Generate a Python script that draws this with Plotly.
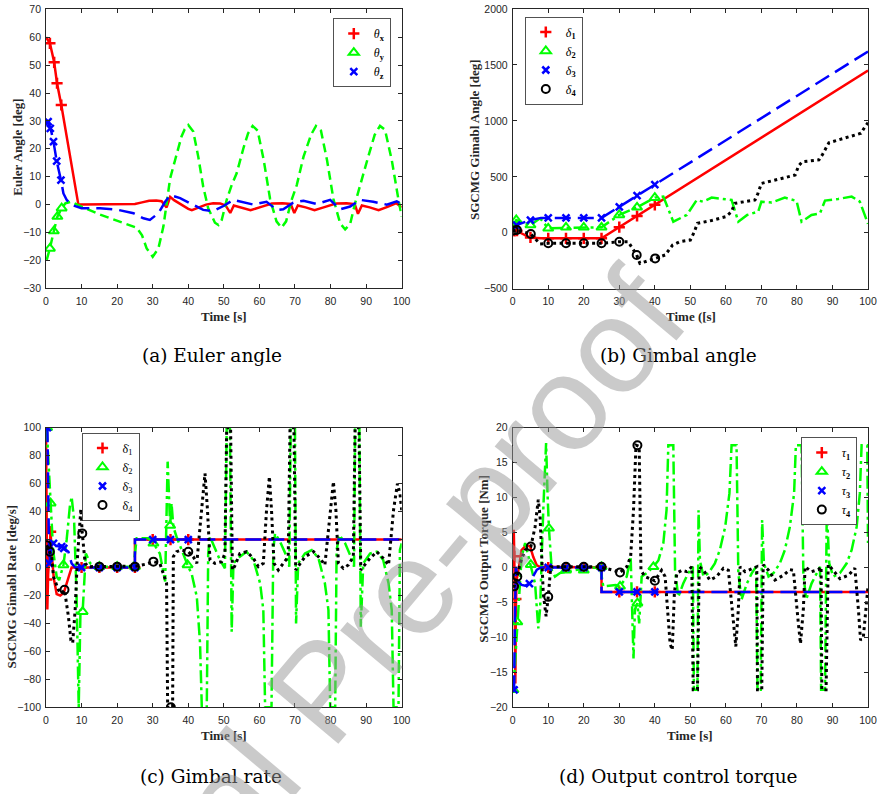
import plotly.graph_objects as go

W, H = 877, 794

# ---------------- (a) Euler angle ----------------
ta_x = [0, 1.1, 2.3, 3.1, 4.3, 5, 6, 7, 8, 9.1, 10, 15, 20, 25, 27, 29, 31, 32.5, 33.9, 34.9,
        36, 38, 40, 41, 43, 45, 47, 49, 50.5, 51.8, 52.8, 55, 57.5, 60.5, 63.5, 66.5, 68.8, 69.8,
        70.8, 73, 75.5, 78.5, 81.5, 84.5, 86.8, 87.7, 88.8, 91, 93.5, 96, 98.5, 100]
theta_x = [60, 57.8, 51, 43.5, 35.7, 30.5, 23, 15.5, 8, 0, 0, 0, 0, 0.2, 0.8, 1.4, 1.5, 1.2, -1, 2.8,
           1.6, 0, -1.5, -2, -1, 0, 0.5, 0.4, -0.3, -3, -0.3, -1, -2, -0.8, 0.4, 0.5, 0.2, -3,
           -0.3, -1, -2, -0.8, 0.4, 0.5, 0.2, -3.3, -0.3, -1, -2, -0.8, 0.5, -1]
ta_x_mk = [1.1, 2.3, 3.1, 4.3]
theta_x_mk = [57.8, 51, 43.5, 35.7]

ta_y = [0.2, 1.1, 2.2, 3.2, 4.4, 5.5, 7.2, 8.2, 15, 20,
        25.5, 27, 28.3, 30, 31.6, 33, 33.9, 34.9, 36.3, 38.1,
        39, 40, 41.4, 42.8, 44.2, 45.6, 47.5, 48.5, 49.4, 50.8,
        52.2, 53.6, 55.5, 56.8, 58.1, 59.5, 61.2, 63, 64.8, 66.2,
        67.5, 69, 70.5, 72.4, 74.5, 75.9, 77.3, 79, 80.8, 82.7,
        84.1, 85.5, 86.9, 88.3, 90.6, 92.4, 93.9, 95.3, 97.2, 99.1, 100]
theta_y = [-19.8, -15.7, -9.5, -4.3, -1.3, 0.5, 1.1, 0.3, -3.5, -5.8,
           -8.3, -11, -15.7, -18.7, -15.7, -7.9, -0.1, 9.4, 16, 24.4,
           27, 28.5, 26.2, 17.2, 6.4, -1.3, -6.5, -7.3, -5.5, 1.7,
           7, 11.2, 20.2, 25.5, 28.2, 26.5, 16, 2, -6, -8.3,
           -6, 1.5, 7, 17.2, 25, 28.2, 26.5, 16, 2, -6.7,
           -8.9, -7, 0.5, 7, 17.2, 25, 28.2, 26.8, 16, 1.7, -4.3]
ta_y_mk = [1.1, 2.2, 3.2, 4.4]
theta_y_mk = [-15.7, -9.5, -4.3, -1.3]

ta_z = [0.2, 1.3, 2.1, 3, 4.2, 4.9, 5.8, 7.2, 10, 15.2,
        20.3, 24.6, 27.4, 29.2, 31.6, 33.5, 34.9, 37.7, 41.4, 44.2,
        47, 49.9, 52.7, 55.5, 58.3, 62, 64.9, 66.7, 69.5, 72.4,
        76.1, 79.9, 82.7, 85.5, 88.3, 92, 95.8, 98.6, 100]
theta_z = [30.3, 27.3, 22.6, 15.6, 8.8, 4, 1.7, -0.1, -1.3, -1.3,
           -1.9, -3.1, -4.9, -5.5, -3.1, 1, 3.4, 2.3, -0.1, -1.9,
           -2.3, -0.5, 1.7, 0.9, 0, 1, -1.9, -1.7, 0.7, 1.4,
           0.2, 1.7, -1.7, -0.7, 1.7, 1, 0, 1.2, 0.2]
ta_z_mk = [0.6, 1.2, 2.1, 3, 4.2]
theta_z_mk = [29.7, 27.3, 22.6, 15.6, 8.8]

# ---------------- (b) Gimbal angle ----------------
tb1 = [0, 1, 5, 8, 25, 100]
d1 = [15, 18, -45, -50, -50, 1450]
tb1_mk = [0.5, 1.2, 5, 10, 15, 20, 25, 30, 35, 40]
d1_mk = [16, 18, -42, -50, -50, -50, -50, 50, 150, 250]

tb2 = [0, 1, 3, 5, 7.7, 10, 25, 30, 35, 40,
       42.4, 45.2, 49, 51.8, 53.5, 56, 61.6, 63.5, 66, 69.1,
       70, 72.9, 76.6, 79.9, 81.3, 84.1, 86.5, 87.9, 91.6, 95.4,
       97.7, 99.6, 100]
d2 = [60, 114, 90, 69, 129, 40, 49, 159, 227, 314,
      323, 99, 159, 293, 278, 314, 293, 99, 159, 189,
      278, 270, 314, 284, 99, 159, 174, 288, 302, 323,
      278, 99, 80]
tb2_mk = [1, 5, 10, 15, 20, 25, 30, 35, 40]
d2_mk = [114, 69, 40, 49, 49, 49, 159, 227, 314]

tb3 = [0, 1.1, 5, 8, 25, 100]
d3 = [20, 69, 114, 133, 133, 1620]
tb3_mk = [1.1, 5, 10, 15, 20, 25, 30, 35, 40]
d3_mk = [69, 114, 133, 133, 133, 133, 232, 331, 430]

tb4 = [0, 1.2, 5.1, 7.7, 10, 25, 30, 32.5, 34.9, 35.8,
       40.1, 42.9, 45, 47, 50, 51, 52, 56, 60, 61.6,
       62.5, 66, 68.2, 69, 70, 75, 79.5, 80.5, 81.5, 86.2,
       87.2, 89, 94, 98, 99, 100]
d4 = [15, 25, -11, -100, -94, -94, -80, -80, -199, -274,
      -229, -199, -110, -80, -65, 0, 84, 110, 144, 188,
      263, 280, 293, 350, 441, 480, 516, 600, 635, 651,
      700, 805, 850, 889, 940, 984]
tb4_mk = [0.3, 1.2, 5.1, 10, 15, 20, 25, 30, 34.9, 40.1]
d4_mk = [20, 25, -11, -94, -94, -94, -94, -80, -199, -229]

# ---------------- (c) Gimbal rate ----------------
tc1 = [0, 0.1, 0.2, 0.37, 0.6, 0.9, 1.3, 1.6, 2.2, 3, 4, 5, 6, 7.2, 25, 25, 100]
r1 = [100, 40, -8.5, -30, -5, 10, 25.6, 10, -8, -19, -20, -18, -10, 0, 0, 20, 20]
tc1_mk = [0.2, 1.3, 10, 15, 20, 25, 30, 35, 40]
r1_mk = [-8.5, 25.6, 0, 0, 0, 0, 20, 20, 20]

tc2 = [0.2, 1.3, 2, 3, 3.7, 4.9, 5.8, 6.7, 7.2, 7.9,
       8.6, 9.2, 9.7, 10.3, 11.2, 12.4, 15.2, 24.6, 25.5, 28.8,
       30.2, 32, 33.5, 34.2, 34.6, 34.9, 35.3, 35.8, 36.7, 38.1,
       39.8, 41, 42.4, 43.3, 43.8, 45.2, 45.6, 46.1, 47, 48.9,
       50.3, 50.8, 51.7, 52.2, 52.7, 54.5, 56.4, 58.3, 60.2, 61.1,
       61.6, 63.4, 63.9, 64.4, 65.8, 67.7, 68.4, 68.8, 70, 70.3,
       70.9, 72.8, 74.7, 76.6, 78.4, 79.4, 79.9, 81.3, 81.7, 82.5,
       84.1, 85.9, 86.6, 86.9, 88.1, 88.5, 89.2, 91.1, 93, 94.8,
       96.3, 97.2, 97.7, 99.1, 99.5, 100]
r2 = [100, 46, 12.5, -6.6, -9, 1.8, 19.7, 43.5, 50.6, 34,
      -20.9, -100, -30, -31.6, 10, 3, 0.6, 0.6, 20.9, 20.9,
      17.3, 10, -10, 75.7, 41, 30, 46, 29, 22, 12.5,
      1.8, -5, -21, -54, -100, -100, 10, 22, 17, 5.4,
      -0.6, 100, 100, -46, 3, 7.7, 11.3, 5.4, -11.3, -30.4,
      -100, -100, 12.5, 24.4, 18.5, 7.7, 0.6, 100, 100, -40,
      3, 10, 12.5, 6.6, -11.3, -30.4, -100, -100, 12.5, 23.2,
      17.3, 6.6, 0.6, 100, 100, -42.3, 3, 10, 11.3, 5.4,
      -11.3, -30.4, -100, -100, 12.5, 17.3]
tc2_mk = [0.3, 1.3, 4.9, 10.3, 15, 20, 25, 30.2, 34.9, 39.8]
r2_mk = [100, 46, 1.8, -31.6, 0.6, 0.6, 0.6, 17.3, 30, 1.8]

tc3 = [0, 0.4, 0.9, 1.6, 2.1, 3.5, 4.4, 5, 6.3, 7.2, 8.2, 25, 25, 100]
r3 = [100, 100, 3, 15, 17.3, 15, 15, 13.7, 11.3, 3, 0, 0, 20, 20]
tc3_mk = [0.4, 0.9, 2.1, 4.4, 5, 10, 15, 20, 25, 30, 35, 40]
r3_mk = [100, 3, 17.3, 15, 13.7, 0, 0, 0, 0, 20, 20, 20]

tc4 = [0.2, 1.1, 1.6, 2.1, 3.5, 4.4, 5.2, 6.3, 7, 7.5,
       8.2, 8.8, 9.6, 9.8, 10.2, 11, 11.9, 24.6, 25.5, 28.3,
       30.2, 32, 33.3, 33.9, 34.2, 35.6, 35.8, 36.7, 38.1, 40,
       41.4, 42.4, 43.3, 44.4, 44.7, 45.4, 46.1, 47.5, 49.4, 50.3,
       50.8, 51.9, 52.4, 53, 54.5, 56.4, 58.3, 59.7, 61.1, 62,
       62.8, 63.4, 64.1, 65.3, 66.7, 68.1, 68.6, 69.7, 70.2, 70.9,
       72.8, 75.2, 77, 78.4, 79.9, 80.8, 81.5, 82.2, 83.6, 85,
       86.4, 86.9, 88, 88.5, 89.2, 91.1, 93, 94.8, 96.3, 97.7,
       98.8, 99.5, 100]
r4 = [16, 11.3, 7.7, -6.6, -16, -18.5, -16, -35, -52, -54,
      -30, 5.4, 41, 42, 24.4, 3, 0.6, 0.6, 1, 2.5,
      4.2, 3, -6.6, -11.3, -100, -100, 7.7, 11.3, 12.5, 11.3,
      7.7, 3, 29, 62.6, 67.3, 41, 5.4, 3, 4.2, 10,
      100, 100, -1.8, 0.6, 10, 11.3, 6.6, 0.6, 3, 41,
      65, 41, 3, -1.8, 3, 7.7, 100, 100, -1.8, 0.6,
      7.7, 11.3, 6.6, 1.8, 41, 61.4, 41, 3, -0.6, 1.8,
      7.7, 100, 100, -1.8, 0.6, 6.6, 11.3, 6.6, 1.8, 41,
      60, 53, 41]
tc4_mk = [0.2, 1.1, 5.2, 10.2, 15, 20, 25, 30.2, 35.1, 40]
r4_mk = [16, 11.3, -16, 24.4, 0.6, 0.6, 0.6, 4.2, -100, 11.3]

# ---------------- (d) Output control torque ----------------
td1 = [0, 0.3, 0.45, 0.6, 0.75, 0.9, 1.2, 1.6, 2.5, 3.8, 4.9, 5.8, 6.8, 7.7, 25, 25, 100]
u1 = [0, 5.4, 1.6, -8, -16.6, -4.5, -1.5, -0.4, 2.5, 3.2, 3, 1.5, 0.3, 0.1, 0, -3.5, -3.5]
td1_mk = [0.45, 0.9, 10, 15, 20, 25, 30, 35, 40]
u1_mk = [1.6, -4.5, 0, 0, 0, 0, -3.5, -3.5, -3.5]

td2 = [0.2, 1.3, 2.5, 3.5, 5.1, 6.3, 7.2, 7.7, 8.6, 9.4,
       9.8, 10.2, 11, 11.9, 13.3, 17.1, 24.6, 25.5, 29, 30.2,
       32.1, 33.2, 34, 34.4, 35.1, 35.6, 36.3, 37.7, 39.6, 41,
       42.4, 43.3, 43.8, 45.2, 45.7, 46.6, 48, 49.4, 50.7, 51,
       52, 52.3, 52.7, 53.7, 55.1, 56.9, 58.3, 59.8, 61, 61.6,
       63, 63.5, 64.4, 65.9, 67.3, 68.5, 68.9, 69.8, 70.2, 70.7,
       72, 73.4, 75.2, 76.6, 78, 79.2, 79.7, 81.3, 81.8, 82.6,
       84.1, 85.6, 86.5, 86.8, 87.9, 88.4, 89.1, 90.2, 92.1, 94,
       95.4, 96.8, 97.7, 98.2, 99.8, 100]
u2 = [-17.5, -7.8, 1.5, 3.5, 0.4, -2.3, -8.7, -6, 8.2, 17.8,
      10.6, 5.6, -0.4, -1.3, -0.8, -0.4, 0.1, -2.7, -2.5, -2.7,
      -1.3, 1.6, -13, -6, -5.1, -8, -1.3, -0.8, 0.1, 1,
      3.5, 8.2, 17.5, 17.5, -0.4, -4.2, -2.3, -0.8, 0.1, -17.5,
      -17.5, 8.2, 1, -1.3, -0.8, 0.6, 2.5, 5.8, 10.6, 17.5,
      17.5, -0.8, -4.6, -2.3, -0.8, 0.1, -17.5, -17.5, 6.8, 0.6,
      -1.3, -0.8, 0.6, 2.5, 5.8, 10.6, 17.5, 17.5, -0.8, -4.6,
      -2.3, -0.8, 0.1, -17.5, -17.5, 8.2, 0.6, -1.3, -0.8, 0.6,
      2.5, 5.8, 10.6, 17.5, 17.5, 3.5]
td2_mk = [0.2, 1.3, 5.1, 10.2, 15, 20, 25, 30.2, 35.1, 39.6]
u2_mk = [-17.5, -7.8, 0.4, 5.6, -0.4, -0.4, 0.1, -2.7, -5.1, 0.1]

td3 = [0, 0.4, 0.6, 0.9, 1.5, 2.5, 3.5, 4.7, 5.5, 6.8, 8, 25, 25, 100]
u3 = [-17.5, -17.5, -8, 0.1, -2, -2.5, -2.6, -2.3, -1.5, -0.3, 0, 0, -3.5, -3.5]
td3_mk = [0.4, 4.7, 10, 15, 20, 25, 30, 35, 40]
u3_mk = [-17.5, -2.3, 0, 0, 0, 0, -3.5, -3.5, -3.5]

td4 = [0, 0.4, 1.3, 2.1, 3.5, 5.1, 6.3, 7.2, 7.7, 8.6,
       9.4, 10, 10.7, 24.6, 28.3, 30.2, 32.1, 33.2, 34, 34.7,
       35.6, 36.1, 37.2, 40, 41.9, 42.9, 44.3, 44.9, 45.5, 46.2,
       47.6, 49, 50.4, 50.8, 52, 52.5, 53.7, 55.5, 57.4, 59.3,
       60.7, 61.9, 62.8, 63.5, 64, 65.4, 67.7, 68.7, 68.9, 70.1,
       70.5, 72, 73.8, 76.2, 78, 79, 80.4, 81, 81.8, 82.3,
       84.1, 86, 86.8, 87, 88.2, 88.8, 90.2, 92.1, 94.5, 96.3,
       97.3, 97.9, 98.7, 99.4, 100]
u4 = [-2.7, -2.7, -1.3, 0.6, 2.5, 3, 5.8, 9.7, 7.3, -3.7,
      -7, -4.2, 0.1, 0.1, -0.4, -0.7, 0.1, 1.6, 8.2, 17.5,
      17.3, -0.4, -1.3, -1.9, -0.4, -1.3, -10.9, -11.8, -3.7, -0.8,
      -0.4, -0.6, 0.1, -17.5, -17.5, 0.1, -0.4, -1.8, -1.3, -0.1,
      -0.4, -7, -11.3, -6, 0.1, -0.6, -0.1, 0.1, -17.5, -17.5,
      0.4, -0.4, -1.8, -1.1, -0.3, -0.4, -8, -10.9, -6, 0.1,
      -0.6, -0.3, 0.1, -17.5, -17.5, 0.4, -0.4, -1.6, -1.1, -0.1,
      -6, -10.4, -9.9, -6, -2.7]
td4_mk = [0.4, 1.3, 5.1, 10, 15, 20, 25, 30.2, 35.1, 40]
u4_mk = [-2.7, -1.3, 3, -4.2, 0.1, 0.1, 0.1, -0.7, 17.5, -1.9]

# ---------------- texts ----------------
x_ticks = [0, 10, 20, 30, 40, 50, 60, 70, 80, 90, 100]
captions = ["(a) Euler angle", "(b) Gimbal angle", "(c) Gimbal rate", "(d) Output control torque"]
x_titles = ["Time [s]", "Time ([s]", "Time [s]", "Time [s]"]
y_titles = ["Euler Angle [deg]", "SGCMG Gimabl Angle [deg]", "SGCMG Gimabl Rate [deg/s]",
            "SGCMG Output Torque [Nm]"]
names_a = ["<i>θ</i><sub><b>x</b></sub>", "<i>θ</i><sub><b>y</b></sub>", "<i>θ</i><sub><b>z</b></sub>"]
names_b = ["<i>δ</i><sub><b>%d</b></sub>" % i for i in range(1, 5)]
names_c = ["δ\u0307<sub>%d</sub>" % i for i in range(1, 5)]
names_d = ["<i>τ</i><sub><b>%d</b></sub>" % i for i in range(1, 5)]
watermark = "Journal Pre-proof"

# ---------------- styling ----------------
RED, GREEN, BLUE, BLACK = "#ff0000", "#00ff00", "#0000ff", "#000000"
SOLID = "solid"
GDASH = "9px,5px"
GDASHDOT = "13px,4px,3px,4px"
BDASH = "16px,7px"
DOT = "3px,3.5px"
SYM = {"+": ("cross-thin", 8, 2.5), "^": ("triangle-up-open", 9, 2),
       "x": ("x-thin", 7, 2.5), "o": ("circle-open", 8, 2)}

fig = go.Figure()


def px(x):
    return x / W


def py(y):
    return 1 - y / H


def series(k, t, v, tm, vm, color, dash, lw, sym, name):
    xa = "x" if k == 1 else "x%d" % k
    ya = "y" if k == 1 else "y%d" % k
    lg = "legend" if k == 1 else "legend%d" % k
    assert len(t) == len(v) and len(tm) == len(vm), name
    fig.add_trace(go.Scatter(x=t, y=v, mode="lines", xaxis=xa, yaxis=ya, showlegend=False,
                             line=dict(color=color, width=lw, dash=dash), hoverinfo="skip"))
    s, sz, w = SYM[sym]
    fig.add_trace(go.Scatter(x=tm, y=vm, mode="markers", xaxis=xa, yaxis=ya, name=name,
                             legend=lg, showlegend=True, cliponaxis=True,
                             marker=dict(symbol=s, size=sz, color=color,
                                         line=dict(color=color, width=w))))


series(1, ta_x, theta_x, ta_x_mk, theta_x_mk, RED, SOLID, 2.5, "+", names_a[0])
series(1, ta_y, theta_y, ta_y_mk, theta_y_mk, GREEN, GDASH, 2.5, "^", names_a[1])
series(1, ta_z, theta_z, ta_z_mk, theta_z_mk, BLUE, BDASH, 2.5, "x", names_a[2])

series(2, tb1, d1, tb1_mk, d1_mk, RED, SOLID, 2.5, "+", names_b[0])
series(2, tb2, d2, tb2_mk, d2_mk, GREEN, GDASHDOT, 2.5, "^", names_b[1])
series(2, tb3, d3, tb3_mk, d3_mk, BLUE, BDASH, 2.5, "x", names_b[2])
series(2, tb4, d4, tb4_mk, d4_mk, BLACK, DOT, 3, "o", names_b[3])

series(3, tc1, r1, tc1_mk, r1_mk, RED, SOLID, 2.5, "+", names_c[0])
series(3, tc2, r2, tc2_mk, r2_mk, GREEN, GDASHDOT, 2.5, "^", names_c[1])
series(3, tc3, r3, tc3_mk, r3_mk, BLUE, BDASH, 2.5, "x", names_c[2])
series(3, tc4, r4, tc4_mk, r4_mk, BLACK, DOT, 3, "o", names_c[3])

series(4, td1, u1, td1_mk, u1_mk, RED, SOLID, 2.5, "+", names_d[0])
series(4, td2, u2, td2_mk, u2_mk, GREEN, GDASHDOT, 2.5, "^", names_d[1])
series(4, td3, u3, td3_mk, u3_mk, BLUE, BDASH, 2.5, "x", names_d[2])
series(4, td4, u4, td4_mk, u4_mk, BLACK, DOT, 3, "o", names_d[3])

# panel geometry (pixels): x0, x1, ytop, ybottom, yrange, dtick
panels = [
    (46, 401.7, 9.3, 288.3, [-30, 70], 10),
    (512.7, 868, 9, 288.7, [-500, 2000], 500),
    (46, 401.7, 427.7, 707.3, [-100, 100], 20),
    (512.7, 868, 427.7, 707.3, [-20, 20], 5),
]
AXC = "#262626"
tickfont = dict(family="Liberation Sans, Arial", size=10.5, color=AXC)
layout = dict(width=W, height=H, margin=dict(l=0, r=0, t=0, b=0),
              paper_bgcolor="white", plot_bgcolor="white", template="none")
for i, (x0, x1, yt, yb, yr, dt) in enumerate(panels):
    k = i + 1
    xn = "xaxis" if k == 1 else "xaxis%d" % k
    yn = "yaxis" if k == 1 else "yaxis%d" % k
    layout[xn] = dict(domain=[px(x0), px(x1)], range=[0, 100], tickvals=x_ticks,
                      anchor="y" if k == 1 else "y%d" % k,
                      ticks="inside", ticklen=4, tickwidth=0.8, tickcolor=AXC,
                      showline=True, linecolor=AXC, linewidth=0.8, mirror="ticks",
                      showgrid=False, zeroline=False, tickfont=tickfont,
                      ticklabelstandoff=3, automargin=False, fixedrange=True)
    layout[yn] = dict(domain=[py(yb), py(yt)], range=yr, dtick=dt, tick0=yr[0],
                      anchor="x" if k == 1 else "x%d" % k,
                      ticks="inside", ticklen=4, tickwidth=0.8, tickcolor=AXC,
                      showline=True, linecolor=AXC, linewidth=0.8, mirror="ticks",
                      showgrid=False, zeroline=False, tickfont=tickfont,
                      ticklabelstandoff=2, automargin=False, fixedrange=True)

legfont = dict(family="Liberation Serif, Times New Roman", size=12, color="#000")
legbase = dict(bgcolor="white", bordercolor=AXC, borderwidth=0.8, font=legfont,
               itemwidth=30, tracegroupgap=0, yanchor="top")
layout["legend"] = dict(legbase, x=px(391), y=py(18.3), xanchor="right")
layout["legend2"] = dict(legbase, x=px(525), y=py(16.7), xanchor="left")
layout["legend3"] = dict(legbase, x=px(81.7), y=py(432.7), xanchor="left")
layout["legend4"] = dict(legbase, x=px(857), y=py(437.3), xanchor="right")
fig.update_layout(**layout)

ann = []
cap_pos = [(212, 355), (678, 355), (211, 776), (678, 776)]
for txt, (cx, cy) in zip(captions, cap_pos):
    ann.append(dict(text=txt, x=px(cx), y=py(cy), xref="paper", yref="paper",
                    xanchor="center", yanchor="middle", showarrow=False,
                    font=dict(family="DejaVu Serif", size=18.5, color="#000")))
xt_pos = [(224, 316), (690.5, 316), (224, 735), (690, 735)]
for txt, (cx, cy) in zip(x_titles, xt_pos):
    ann.append(dict(text="<b>%s</b>" % txt, x=px(cx), y=py(cy), xref="paper", yref="paper",
                    xanchor="center", yanchor="middle", showarrow=False,
                    font=dict(family="Liberation Serif, Times New Roman", size=13, color=AXC)))
yt_pos = [(16.7, 147), (475, 140), (10.5, 587), (482.7, 559)]
for txt, (cx, cy) in zip(y_titles, yt_pos):
    ann.append(dict(text="<b>%s</b>" % txt, x=px(cx), y=py(cy), xref="paper", yref="paper",
                    xanchor="center", yanchor="middle", showarrow=False, textangle=-90,
                    font=dict(family="Liberation Serif, Times New Roman", size=13, color=AXC)))
# watermark
ann.append(dict(text=watermark, x=px(322), y=py(690), xref="paper", yref="paper",
                xanchor="center", yanchor="middle", showarrow=False, textangle=-50,
                font=dict(family="Liberation Sans, Arial", size=135, color="rgba(150,150,150,0.5)")))
fig.update_layout(annotations=ann)

fig.write_html("out.html", config={"displayModeBar": False},
               post_script="document.body.style.margin='0px';document.body.style.overflow='hidden';")
